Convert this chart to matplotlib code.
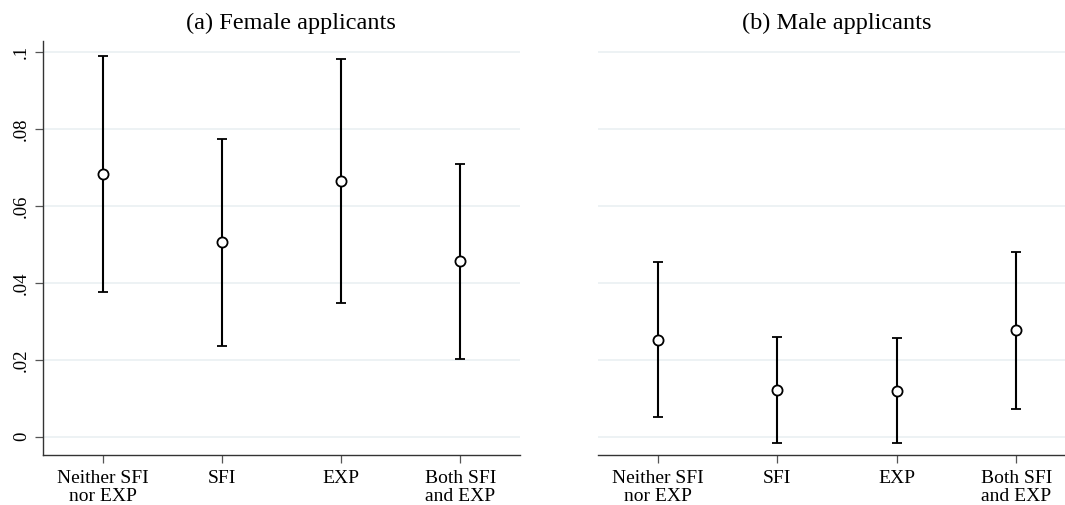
import matplotlib
matplotlib.use("Agg")
import matplotlib.pyplot as plt
import numpy as np

plt.rcParams['font.family'] = ['Liberation Serif', 'DejaVu Serif']

categories = ["Neither SFI\nnor EXP", "SFI", "EXP", "Both SFI\nand EXP"]
female_est = [0.0683, 0.0506, 0.0666, 0.0456]
female_lo = [0.0377, 0.0236, 0.0348, 0.0202]
female_hi = [0.0991, 0.0774, 0.0983, 0.0709]
male_est = [0.0252, 0.0121, 0.0120, 0.0277]
male_lo = [0.0051, -0.0016, -0.0016, 0.0072]
male_hi = [0.0454, 0.0259, 0.0257, 0.0480]
yticks = [0, 0.02, 0.04, 0.06, 0.08, 0.1]
yticklabels = ["0", ".02", ".04", ".06", ".08", ".1"]
titles = ["(a) Female applicants", "(b) Male applicants"]

W, H = 1065, 505
fig = plt.figure(figsize=(W / 100, H / 100), dpi=100)

bottom_px, top_px = 455, 40.7
ax1 = fig.add_axes([43 / W, (H - bottom_px) / H, 477 / W, (bottom_px - top_px) / H])
ax2 = fig.add_axes([598 / W, (H - bottom_px) / H, 478 / W, (bottom_px - top_px) / H])

grid_color = "#eaf0f2"
for ax, est, lo, hi in [(ax1, female_est, female_lo, female_hi), (ax2, male_est, male_lo, male_hi)]:
    x = np.arange(1, len(categories) + 1)
    est = np.array(est); lo = np.array(lo); hi = np.array(hi)
    ax.errorbar(x, est, yerr=[est - lo, hi - est], fmt='o', color='black',
                mfc='white', mec='black', ms=7.3, mew=1.3, elinewidth=1.5,
                capsize=3.9, capthick=1.5, zorder=3)
    ax.set_xlim(0.5, 4.5)
    ax.set_ylim(-0.00476, 0.103)
    ax.set_yticks(yticks)
    for yv in yticks:
        ax.axhline(yv, color=grid_color, lw=1.2, zorder=0)
    ax.set_xticks(x)
    ax.set_xticklabels(categories, fontsize=14, linespacing=1.1)
    ax.tick_params(axis='x', length=5.5, width=0.9, color='#555555', pad=5)
    for s in ['top', 'right']:
        ax.spines[s].set_visible(False)
    ax.spines['bottom'].set_color('#333333')
    ax.spines['bottom'].set_linewidth(1.0)

ax1.set_yticklabels(yticklabels, fontsize=13.5, rotation=90, va='center')
ax1.tick_params(axis='y', length=5.5, width=0.9, color='#555555', pad=4)
ax1.spines['left'].set_color('#333333')
ax1.spines['left'].set_linewidth(1.0)

ax2.spines['left'].set_visible(False)
ax2.tick_params(axis='y', left=False, labelleft=False)

fig.text(291 / W, 1 - 23 / H, titles[0], ha='center', va='center', fontsize=17.5)
fig.text(837 / W, 1 - 23 / H, titles[1], ha='center', va='center', fontsize=17.5)

fig.savefig("out.png", dpi=100, facecolor='white')
